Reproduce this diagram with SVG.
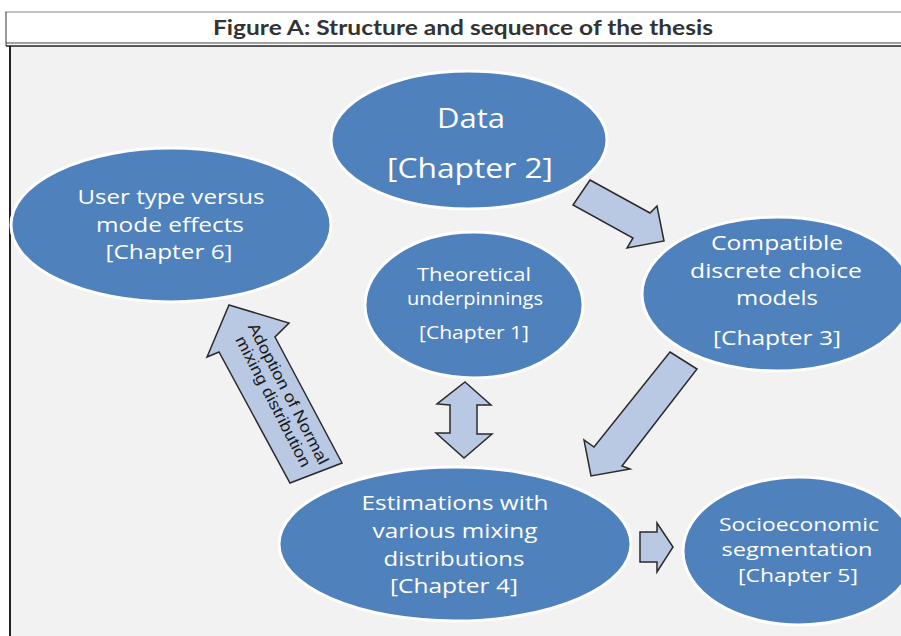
<svg xmlns="http://www.w3.org/2000/svg" width="901" height="636" viewBox="0 0 901 636">
<style>
.node{fill:#4f81bd;stroke:#ffffff;stroke-width:3}
.t{font-family:"Open Sans","Liberation Sans",sans-serif;fill:#ffffff;text-anchor:middle}
.arr{fill:#b9c9e4;stroke:#2a2a2a;stroke-width:1.5;stroke-linejoin:miter}
</style>
<rect x="0" y="0" width="901" height="636" fill="#ffffff"/>
<rect x="10" y="46" width="891" height="590" fill="#f2f2f2"/>
<g id="frame" fill="none">
<line x1="5" y1="12" x2="901" y2="12" stroke="#8a8a8a" stroke-width="1.2"/>
<line x1="6" y1="12" x2="6" y2="46" stroke="#555" stroke-width="1.2"/>
<line x1="6" y1="43" x2="901" y2="43" stroke="#444" stroke-width="1"/>
<line x1="6" y1="46" x2="901" y2="46" stroke="#222" stroke-width="1.5"/>
<line x1="10" y1="46" x2="10" y2="636" stroke="#222" stroke-width="2"/>
</g>
<text x="463" y="35" font-family="Lato,'Open Sans',sans-serif" font-weight="bold" font-size="20" fill="#333" text-anchor="middle" textLength="500" lengthAdjust="spacingAndGlyphs">Figure A: Structure and sequence of the thesis</text>

<g id="data"><ellipse class="node" cx="469" cy="140" rx="138" ry="69"/>
<text class="t" x="471" y="128" font-size="28" textLength="68" lengthAdjust="spacingAndGlyphs">Data</text>
<text class="t" x="470" y="178" font-size="28" textLength="166" lengthAdjust="spacingAndGlyphs">[Chapter 2]</text></g>

<g id="usertype"><ellipse class="node" cx="171" cy="225" rx="160" ry="77"/>
<text class="t" x="171" y="204" font-size="20" textLength="187" lengthAdjust="spacingAndGlyphs">User type versus</text>
<text class="t" x="170" y="232" font-size="20" textLength="148" lengthAdjust="spacingAndGlyphs">mode effects</text>
<text class="t" x="169" y="259" font-size="20" textLength="127" lengthAdjust="spacingAndGlyphs">[Chapter 6]</text></g>

<g id="theory"><ellipse class="node" cx="474" cy="305" rx="109" ry="73"/>
<text class="t" x="474" y="281" font-size="18" textLength="114" lengthAdjust="spacingAndGlyphs">Theoretical</text>
<text class="t" x="475" y="305" font-size="18" textLength="136" lengthAdjust="spacingAndGlyphs">underpinnings</text>
<text class="t" x="474" y="339" font-size="18" textLength="110" lengthAdjust="spacingAndGlyphs">[Chapter 1]</text></g>

<g id="compatible"><ellipse class="node" cx="777" cy="294" rx="135" ry="77"/>
<text class="t" x="777" y="250" font-size="20" textLength="132" lengthAdjust="spacingAndGlyphs">Compatible</text>
<text class="t" x="776" y="278" font-size="20" textLength="172" lengthAdjust="spacingAndGlyphs">discrete choice</text>
<text class="t" x="777" y="305" font-size="20" textLength="82" lengthAdjust="spacingAndGlyphs">models</text>
<text class="t" x="777" y="345" font-size="20" textLength="128" lengthAdjust="spacingAndGlyphs">[Chapter 3]</text></g>

<g id="estimations"><ellipse class="node" cx="455" cy="544" rx="176" ry="77"/>
<text class="t" x="455" y="510" font-size="20" textLength="187" lengthAdjust="spacingAndGlyphs">Estimations with</text>
<text class="t" x="455" y="538" font-size="20" textLength="165" lengthAdjust="spacingAndGlyphs">various mixing</text>
<text class="t" x="454" y="566" font-size="20" textLength="141" lengthAdjust="spacingAndGlyphs">distributions</text>
<text class="t" x="454" y="593" font-size="20" textLength="128" lengthAdjust="spacingAndGlyphs">[Chapter 4]</text></g>

<g id="socio"><ellipse class="node" cx="799" cy="551" rx="116" ry="74"/>
<text class="t" x="799" y="531" font-size="18" textLength="160" lengthAdjust="spacingAndGlyphs">Socioeconomic</text>
<text class="t" x="797" y="556" font-size="18" textLength="151" lengthAdjust="spacingAndGlyphs">segmentation</text>
<text class="t" x="798" y="582" font-size="18" textLength="120" lengthAdjust="spacingAndGlyphs">[Chapter 5]</text></g>

<g id="connectors">
<polygon class="arr" points="590,180 650,213 657,206 664,241 627,248 633,238 573,205"/>
<polygon class="arr" points="670,352 697,369 622,466 630,469 591,476 584,440 594,447"/>
<polygon class="arr" points="465,382 491,405 477,405 477,434 492,434 464,458 436,433 450,433 450,405 437,404"/>
<polygon class="arr" points="229,305 289,323 275,337 342,463 290,483 219,352 207,357"/>
<polygon class="arr" points="640,532 657,532 657,523 673,547 657,572 657,562 640,562"/>
<text font-family="'Liberation Sans',Arial,sans-serif" font-size="16" fill="#1a1a1a" text-anchor="middle" transform="translate(280,398) rotate(62.6)"><tspan x="0" y="-4" textLength="157" lengthAdjust="spacingAndGlyphs">Adoption of Normal</tspan><tspan x="0" y="13" textLength="145" lengthAdjust="spacingAndGlyphs">mixing distribution</tspan></text>
</g>
</svg>
